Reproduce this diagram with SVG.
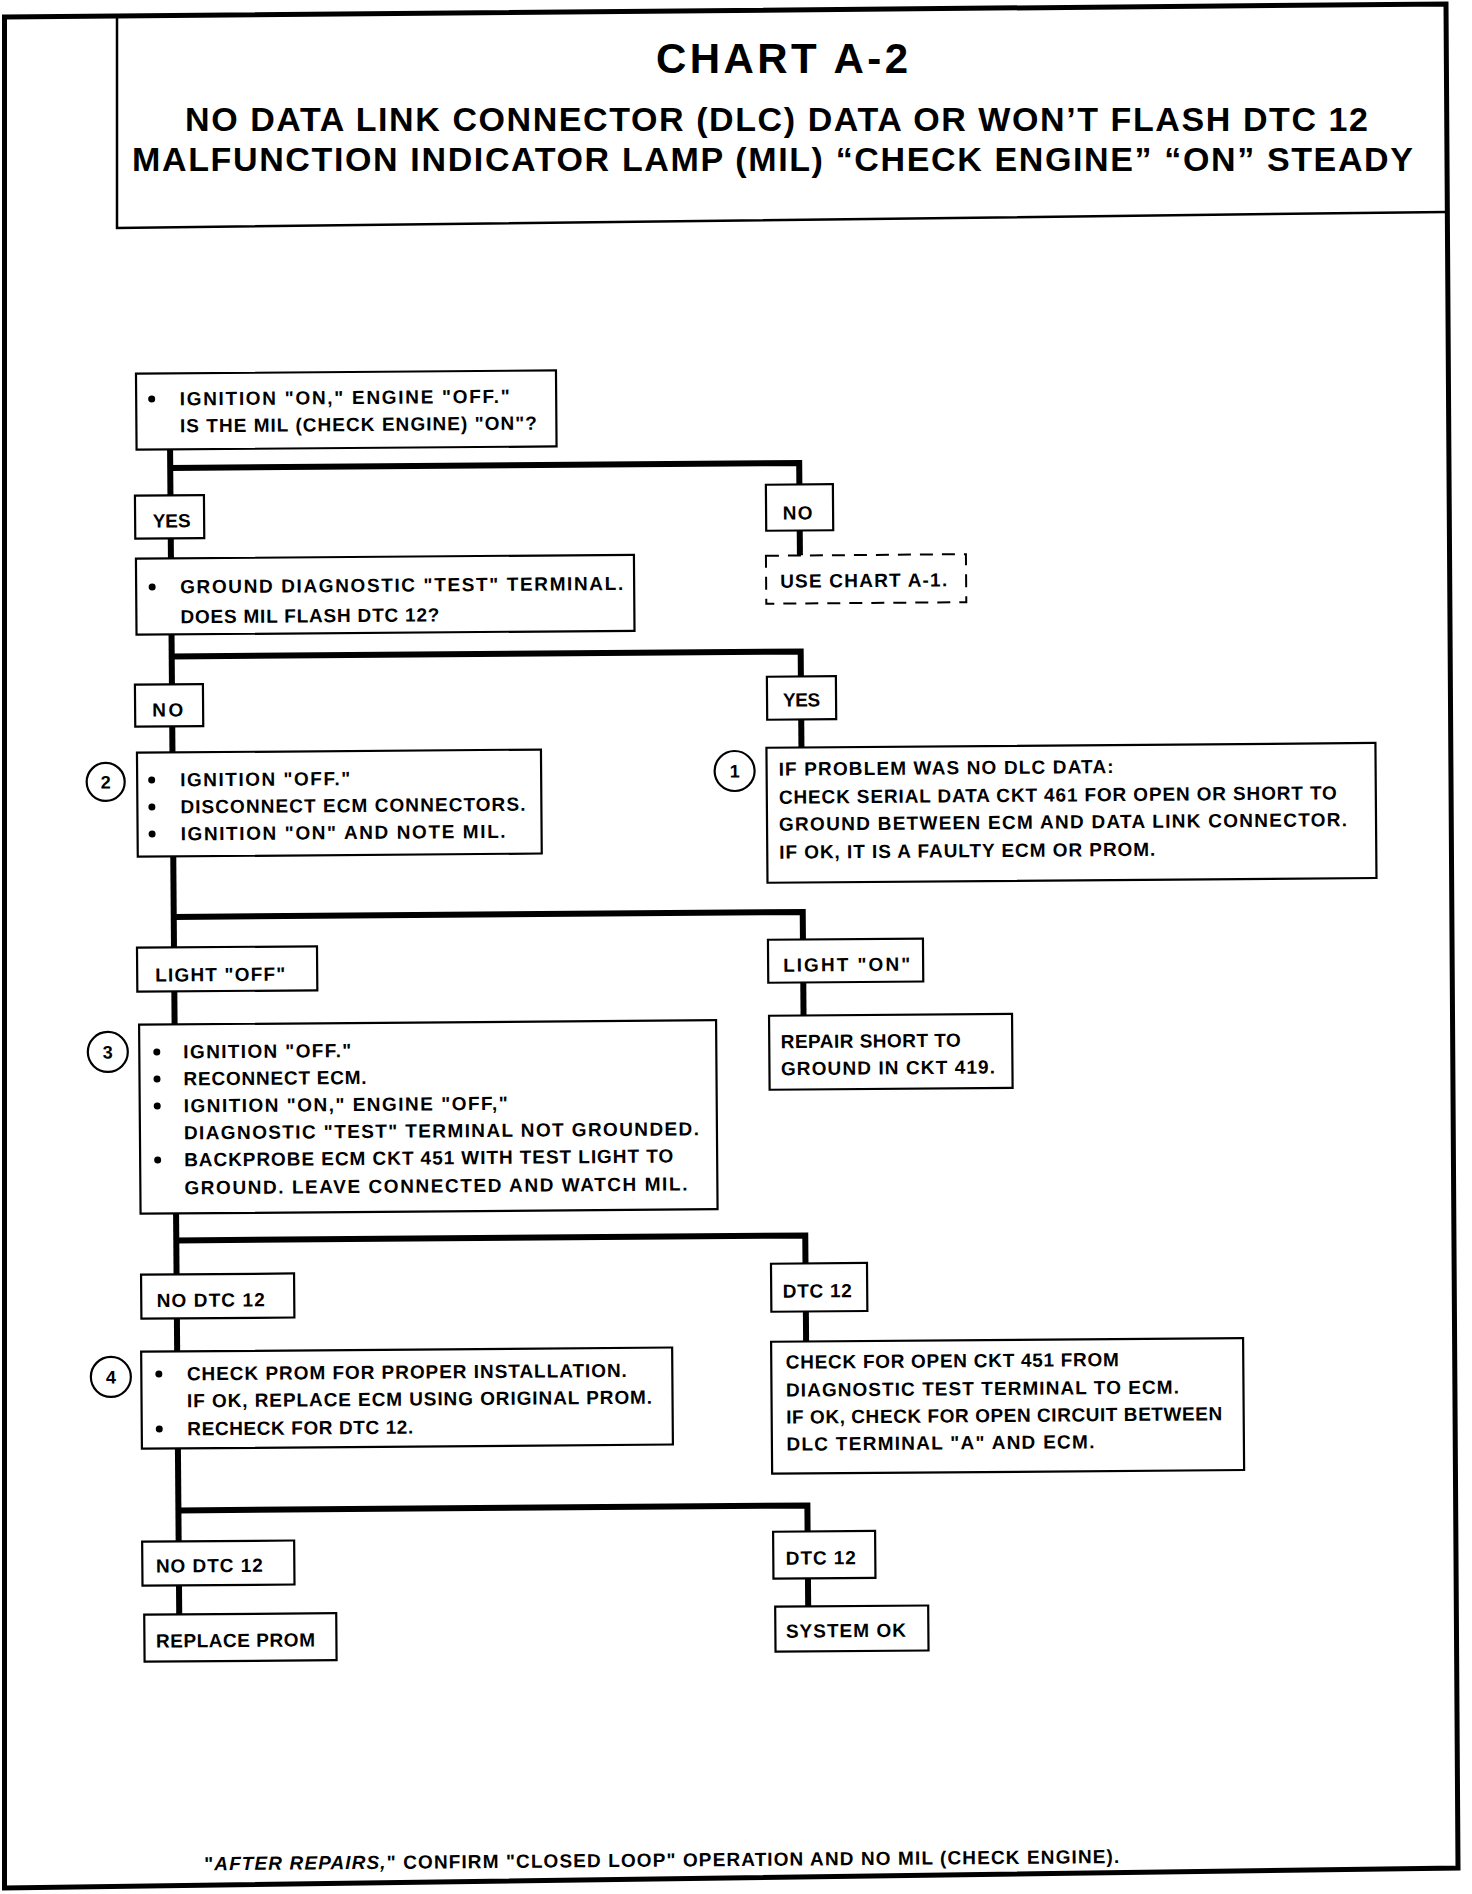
<svg xmlns="http://www.w3.org/2000/svg" width="1472" height="1894" viewBox="0 0 1472 1894">
<style>
.frame{fill:none;stroke:#000;stroke-width:5;stroke-linejoin:miter}
.tbox{fill:none;stroke:#000;stroke-width:2.5}
.box{fill:#fff;stroke:#000;stroke-width:2.2}
.dash{fill:#fff;stroke:#000;stroke-width:2;stroke-dasharray:13 9}
.conn{fill:none;stroke:#000;stroke-width:6;stroke-linejoin:miter;stroke-linecap:butt}
.circ{fill:#fff;stroke:#000;stroke-width:2.2}
text{font-family:"Liberation Sans",Arial,sans-serif;font-weight:bold;fill:#000}
.t{font-size:19px}
.title{font-size:34px}
.big{font-size:42px}
.num{font-size:18px;text-anchor:middle}
.dot{fill:#000}
</style>
<rect x="0" y="0" width="1472" height="1894" fill="#fff"/>
<g id="page">
<path class="frame" d="M4.5 17 L1446 4 L1458 1868 L4.5 1888 Z"/>
<path class="tbox" d="M117 17 L117 228 L1446 212"/>
</g>
<g id="title">
<text class="big" x="782" y="73" text-anchor="middle" textLength="252">CHART A-2</text>
<text class="title" x="185" y="131" textLength="1183">NO DATA LINK CONNECTOR (DLC) DATA OR WON’T FLASH DTC 12</text>
<text class="title" x="132" y="171" textLength="1281">MALFUNCTION INDICATOR LAMP (MIL) “CHECK ENGINE” “ON” STEADY</text>
</g>
<g transform="rotate(-0.45 736 947)">
<g id="connectors">
<path class="conn" d="M174 445 V491"/>
<path class="conn" d="M174 463.5 H803 V485"/>
<path class="conn" d="M803 531 V556"/>
<path class="conn" d="M174 534 V554"/>
<path class="conn" d="M174 630 V680"/>
<path class="conn" d="M174 652 H803 V677"/>
<path class="conn" d="M803 720 V748"/>
<path class="conn" d="M174 722 V748"/>
<path class="conn" d="M174 852 V943"/>
<path class="conn" d="M174 912.5 H803 V940"/>
<path class="conn" d="M803 983 V1016"/>
<path class="conn" d="M174 987 V1020"/>
<path class="conn" d="M174 1209 V1270"/>
<path class="conn" d="M174 1236 H803 V1264"/>
<path class="conn" d="M803 1312 V1342"/>
<path class="conn" d="M174 1314 V1347"/>
<path class="conn" d="M174 1444 V1537"/>
<path class="conn" d="M174 1506 H803 V1532"/>
<path class="conn" d="M174 1581 V1610"/>
<path class="conn" d="M803 1579 V1607"/>
</g>
<g id="n_mil_on">
<rect class="box" x="140.5" y="369" width="420" height="76"/>
<circle class="dot" cx="156" cy="394.5" r="3.5"/>
<text class="t" x="184" y="401" textLength="330">IGNITION "ON," ENGINE "OFF."</text>
<text class="t" x="184" y="428" textLength="357">IS THE MIL (CHECK ENGINE) "ON"?</text>
</g>
<g id="n_yes1">
<rect class="box" x="138.5" y="491" width="69" height="43"/>
<text class="t" x="156" y="523" textLength="38">YES</text>
</g>
<g id="n_no1">
<rect class="box" x="769.5" y="485" width="67" height="46"/>
<text class="t" x="786" y="520" textLength="30">NO</text>
</g>
<g id="n_chart_a1">
<rect class="dash" x="769" y="556" width="200" height="48"/>
<text class="t" x="783" y="588" textLength="167">USE CHART A-1.</text>
</g>
<g id="n_ground_test">
<rect class="box" x="139" y="554" width="498" height="76"/>
<circle class="dot" cx="155" cy="582.5" r="3.5"/>
<text class="t" x="183" y="589" textLength="443">GROUND DIAGNOSTIC "TEST" TERMINAL.</text>
<text class="t" x="183" y="619" textLength="259">DOES MIL FLASH DTC 12?</text>
</g>
<g id="n_yes2">
<rect class="box" x="769" y="677" width="69" height="43"/>
<text class="t" x="785" y="707" textLength="37">YES</text>
</g>
<g id="n_no2">
<rect class="box" x="137" y="680" width="68" height="42"/>
<text class="t" x="154" y="712" textLength="31">NO</text>
</g>
<g id="n_step1">
<circle class="circ" cx="736" cy="771" r="20"/>
<text class="num" x="736" y="777.5">1</text>
<rect class="box" x="768" y="748" width="609" height="135"/>
<text class="t" x="780" y="776" textLength="335">IF PROBLEM WAS NO DLC DATA:</text>
<text class="t" x="780" y="804" textLength="558">CHECK SERIAL DATA CKT 461 FOR OPEN OR SHORT TO</text>
<text class="t" x="780" y="831" textLength="568">GROUND BETWEEN ECM AND DATA LINK CONNECTOR.</text>
<text class="t" x="780" y="859" textLength="376">IF OK, IT IS A FAULTY ECM OR PROM.</text>
</g>
<g id="n_step2">
<circle class="circ" cx="107" cy="777" r="19"/>
<text class="num" x="107" y="783.5">2</text>
<rect class="box" x="138.5" y="748" width="404" height="104"/>
<circle class="dot" cx="153" cy="775.5" r="3.5"/>
<circle class="dot" cx="153" cy="802.5" r="3.5"/>
<circle class="dot" cx="153" cy="829.5" r="3.5"/>
<text class="t" x="181.5" y="782" textLength="170">IGNITION "OFF."</text>
<text class="t" x="181.5" y="809" textLength="345">DISCONNECT ECM CONNECTORS.</text>
<text class="t" x="181.5" y="836" textLength="325">IGNITION "ON" AND NOTE MIL.</text>
</g>
<g id="n_light_off">
<rect class="box" x="137" y="943" width="180" height="44"/>
<text class="t" x="155" y="977" textLength="130">LIGHT "OFF"</text>
</g>
<g id="n_light_on">
<rect class="box" x="768" y="940" width="155" height="43"/>
<text class="t" x="783" y="972" textLength="127">LIGHT "ON"</text>
</g>
<g id="n_repair_short">
<rect class="box" x="768.5" y="1016" width="243" height="74"/>
<text class="t" x="780" y="1048.5" textLength="180">REPAIR SHORT TO</text>
<text class="t" x="780" y="1075.5" textLength="214">GROUND IN CKT 419.</text>
</g>
<g id="n_step3">
<circle class="circ" cx="107" cy="1047" r="20"/>
<text class="num" x="107" y="1053.5">3</text>
<rect class="box" x="138.5" y="1020" width="577" height="189"/>
<circle class="dot" cx="156" cy="1047.5" r="3.5"/>
<circle class="dot" cx="156" cy="1074.5" r="3.5"/>
<circle class="dot" cx="156" cy="1101.5" r="3.5"/>
<circle class="dot" cx="156" cy="1155.5" r="3.5"/>
<text class="t" x="182.5" y="1054" textLength="168">IGNITION "OFF."</text>
<text class="t" x="182.5" y="1081" textLength="183">RECONNECT ECM.</text>
<text class="t" x="182.5" y="1108" textLength="324">IGNITION "ON," ENGINE "OFF,"</text>
<text class="t" x="182.5" y="1135" textLength="515">DIAGNOSTIC "TEST" TERMINAL NOT GROUNDED.</text>
<text class="t" x="182.5" y="1162" textLength="489">BACKPROBE ECM CKT 451 WITH TEST LIGHT TO</text>
<text class="t" x="182.5" y="1190" textLength="503">GROUND. LEAVE CONNECTED AND WATCH MIL.</text>
</g>
<g id="n_no_dtc12_a">
<rect class="box" x="138.5" y="1270" width="153" height="44"/>
<text class="t" x="154" y="1302.5" textLength="108">NO DTC 12</text>
</g>
<g id="n_dtc12_a">
<rect class="box" x="768.5" y="1264" width="96" height="48"/>
<text class="t" x="780" y="1298" textLength="69">DTC 12</text>
</g>
<g id="n_check_open">
<rect class="box" x="768" y="1342" width="472" height="132"/>
<text class="t" x="782.5" y="1369" textLength="333">CHECK FOR OPEN CKT 451 FROM</text>
<text class="t" x="782.5" y="1397" textLength="393">DIAGNOSTIC TEST TERMINAL TO ECM.</text>
<text class="t" x="782.5" y="1424" textLength="436">IF OK, CHECK FOR OPEN CIRCUIT BETWEEN</text>
<text class="t" x="782.5" y="1451" textLength="308">DLC TERMINAL "A" AND ECM.</text>
</g>
<g id="n_step4">
<circle class="circ" cx="107.5" cy="1372" r="20"/>
<text class="num" x="107.5" y="1378.5">4</text>
<rect class="box" x="138" y="1347" width="531" height="97"/>
<circle class="dot" cx="155.5" cy="1369.5" r="3.5"/>
<circle class="dot" cx="155.5" cy="1424.5" r="3.5"/>
<text class="t" x="183.5" y="1376" textLength="440">CHECK PROM FOR PROPER INSTALLATION.</text>
<text class="t" x="183.5" y="1403" textLength="465">IF OK, REPLACE ECM USING ORIGINAL PROM.</text>
<text class="t" x="183.5" y="1431" textLength="226">RECHECK FOR DTC 12.</text>
</g>
<g id="n_no_dtc12_b">
<rect class="box" x="137.5" y="1537" width="152" height="44"/>
<text class="t" x="151" y="1568" textLength="107">NO DTC 12</text>
</g>
<g id="n_replace_prom">
<rect class="box" x="139" y="1610" width="192" height="47"/>
<text class="t" x="150.5" y="1643" textLength="159">REPLACE PROM</text>
</g>
<g id="n_dtc12_b">
<rect class="box" x="768.5" y="1532" width="102" height="47"/>
<text class="t" x="781" y="1565" textLength="70">DTC 12</text>
</g>
<g id="n_system_ok">
<rect class="box" x="770" y="1607" width="153" height="45"/>
<text class="t" x="780.5" y="1638" textLength="120">SYSTEM OK</text>
</g>
<g id="footer">
<text class="t" x="197" y="1866" textLength="915">"<tspan font-style="italic">AFTER REPAIRS,</tspan>" CONFIRM "CLOSED LOOP" OPERATION AND NO MIL (CHECK ENGINE).</text>
</g>
</g>
</svg>
